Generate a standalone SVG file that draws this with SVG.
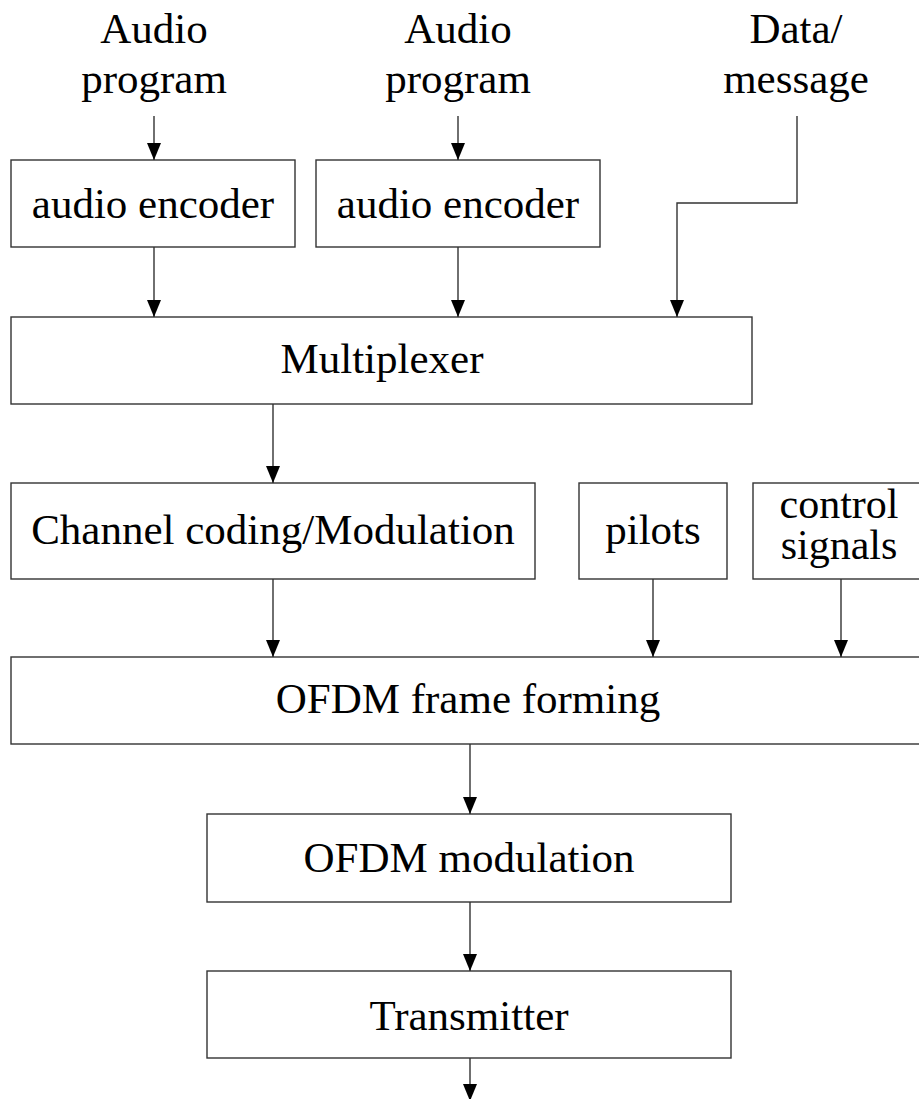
<svg xmlns="http://www.w3.org/2000/svg" width="919" height="1099" viewBox="0 0 919 1099">
<style>
.box{fill:#fff;stroke:#333;stroke-width:1.4}
.t{font-family:"Liberation Serif","Times New Roman",serif;font-size:43px;fill:#000;text-anchor:middle}
.s{font-size:42px}
.c{fill:none;stroke:#333;stroke-width:1.4}
</style>
<defs>
<marker id="arr" markerUnits="userSpaceOnUse" markerWidth="17" markerHeight="14" viewBox="0 0 17 14" refX="17" refY="7" orient="auto">
<path d="M0,0 L17,7 L0,14 z" fill="#000"/>
</marker>
</defs>
<rect width="919" height="1099" fill="#fff"/>
<g id="src1"><text class="t" x="154" y="43">Audio</text><text class="t" x="154" y="93">program</text></g>
<g id="src2"><text class="t" x="458" y="43">Audio</text><text class="t" x="458" y="93">program</text></g>
<g id="src3"><text class="t" x="796" y="43">Data/</text><text class="t" x="796" y="93">message</text></g>
<g id="enc1"><rect class="box" x="11" y="160" width="284" height="87"/><text class="t" x="153" y="218">audio encoder</text></g>
<g id="enc2"><rect class="box" x="316" y="160" width="284" height="87"/><text class="t" x="458" y="218">audio encoder</text></g>
<g id="mux"><rect class="box" x="11" y="317" width="741" height="87"/><text class="t" x="382" y="373">Multiplexer</text></g>
<g id="chan"><rect class="box" x="11" y="483" width="524" height="96"/><text class="t" x="273" y="544">Channel coding/Modulation</text></g>
<g id="pilots"><rect class="box" x="579" y="483" width="148" height="96"/><text class="t" x="653" y="544">pilots</text></g>
<g id="ctrl"><rect class="box" x="753" y="483" width="180" height="96"/><text class="t s" x="839" y="518">control</text><text class="t s" x="839" y="559">signals</text></g>
<g id="frame"><rect class="box" x="11" y="657" width="922" height="87"/><text class="t" x="468" y="713">OFDM frame forming</text></g>
<g id="ofdm"><rect class="box" x="207" y="814" width="524" height="88"/><text class="t" x="469" y="872">OFDM modulation</text></g>
<g id="tx"><rect class="box" x="207" y="971" width="524" height="87"/><text class="t" x="469" y="1030">Transmitter</text></g>
<g id="connectors">
<path class="c" d="M154,116 V160" marker-end="url(#arr)"/>
<path class="c" d="M458,116 V160" marker-end="url(#arr)"/>
<path class="c" d="M154,247 V317" marker-end="url(#arr)"/>
<path class="c" d="M458,247 V317" marker-end="url(#arr)"/>
<path class="c" d="M797,116 V203 H677 V317" marker-end="url(#arr)"/>
<path class="c" d="M273,404 V483" marker-end="url(#arr)"/>
<path class="c" d="M273,579 V657" marker-end="url(#arr)"/>
<path class="c" d="M653,579 V657" marker-end="url(#arr)"/>
<path class="c" d="M841,579 V657" marker-end="url(#arr)"/>
<path class="c" d="M470,744 V814" marker-end="url(#arr)"/>
<path class="c" d="M470,902 V971" marker-end="url(#arr)"/>
<path class="c" d="M470,1058 V1101" marker-end="url(#arr)"/>
</g>
</svg>
